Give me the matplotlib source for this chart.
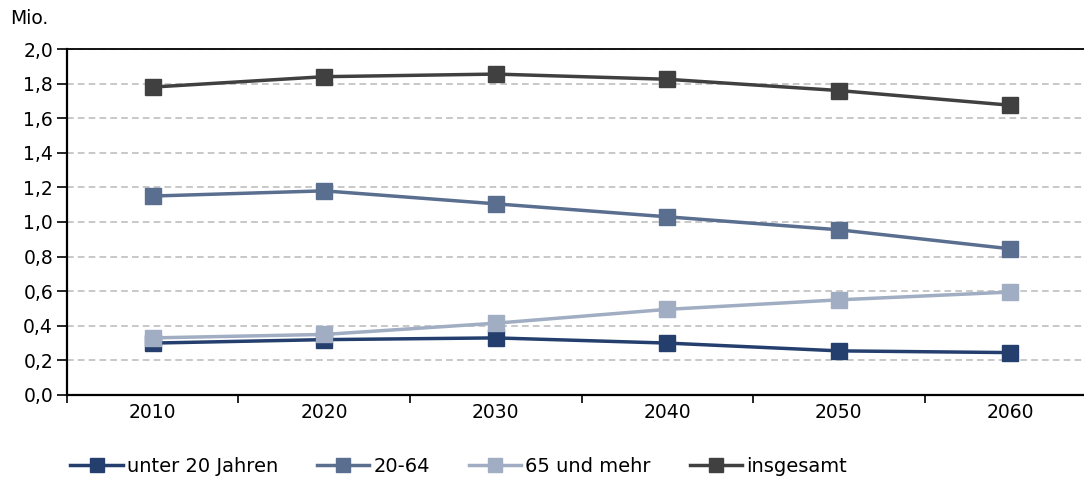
import matplotlib.pyplot as plt
import numpy as np

years = ["2010", "2020", "2030", "2040", "2050", "2060"]
unter20 = [0.30, 0.32, 0.33, 0.30, 0.255, 0.245]
erwerb = [1.15, 1.18, 1.105, 1.03, 0.955, 0.845]
ueber65 = [0.33, 0.35, 0.415, 0.495, 0.55, 0.595]
gesamt = [1.78, 1.84, 1.855, 1.825, 1.76, 1.675]

labels = ["unter 20 Jahren", "20-64", "65 und mehr", "insgesamt"]
colors = ["#243F6E", "#5A6E90", "#A0ADC2", "#404040"]

plt.rcParams['font.family'] = ['DejaVu Sans']

fig = plt.figure(figsize=(10.84, 4.79), dpi=100)
ax = fig.add_axes([0.0618, 0.1754, 0.9493, 0.7223])

x = np.arange(len(years))
series = [unter20, erwerb, ueber65, gesamt]
# light ones under, totals on top
order = [2, 0, 1, 3]
handles = {}
for i in order:
    h, = ax.plot(x, series[i], color=colors[i], lw=2.5, marker='s', ms=11.5,
                 label=labels[i], zorder=3 + i)
    handles[i] = h

ax.set_xlim(-0.5, 5.5)
ax.set_ylim(0, 2.0)
yt = np.arange(0, 2.01, 0.2)
ax.set_yticks(yt)
ax.set_yticklabels([f"{v:.1f}".replace(".", ",") for v in yt], fontsize=13.5)
ax.set_xticks(x)
ax.set_xticklabels(years, fontsize=13.5)
ax.set_xticks(np.arange(-0.5, 5.6, 1), minor=True)
ax.tick_params(axis='x', which='major', length=0, pad=6)
ax.tick_params(axis='x', which='minor', length=6, width=1.2, color='black')
ax.tick_params(axis='y', length=7, width=1.2, pad=3)

ax.grid(axis='y', color='#BFBFBF', ls=(0, (4, 2.5)), lw=1.2)
ax.set_axisbelow(True)
for s in ['left', 'bottom']:
    ax.spines[s].set_linewidth(1.6)
ax.spines['top'].set_linewidth(1.3)
ax.spines['right'].set_visible(False)

fig.text(0.009, 0.962, "Mio.", fontsize=13.5, va='center')

fig.legend([handles[i] for i in range(4)], labels, loc='center left',
           bbox_to_anchor=(0.065, 0.027), ncol=4, frameon=False,
           prop={'size': 14}, borderaxespad=0, borderpad=0,
           handlelength=2.7, handletextpad=0.2, columnspacing=2.0,
           markerscale=0.85)

fig.savefig("out.png", dpi=100)
